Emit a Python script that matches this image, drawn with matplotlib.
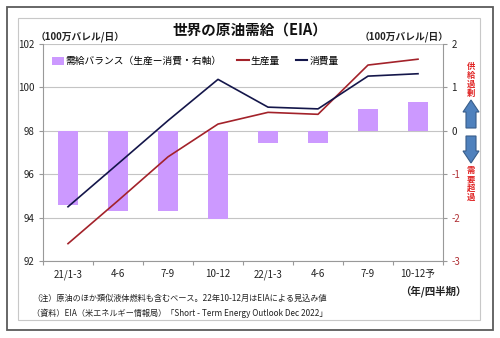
import matplotlib
matplotlib.use("Agg")
import matplotlib.pyplot as plt
from matplotlib.patches import Rectangle, Polygon, Patch
from matplotlib.lines import Line2D

plt.rcParams['font.family'] = ['Noto Sans CJK JP', 'DejaVu Sans']

categories = ["21/1-3", "4-6", "7-9", "10-12", "22/1-3", "4-6", "7-9", "10-12予"]
balance = [-1.72, -1.85, -1.85, -2.03, -0.27, -0.27, 0.50, 0.67]
production = [92.8, 94.78, 96.8, 98.31, 98.85, 98.76, 101.03, 101.3]
consumption = [94.5, 96.48, 98.47, 100.37, 99.09, 99.01, 100.52, 100.63]
left_ticks = [92, 94, 96, 98, 100, 102]
right_ticks = [-3, -2, -1, 0, 1, 2]

W, H = 500, 338
fig = plt.figure(figsize=(W / 100, H / 100), dpi=100)
fig.patch.set_facecolor('white')

def fx(x):
    return x / W

def fy(y):
    return 1 - y / H

# frames
fig.patches.append(Rectangle((fx(7), fy(330)), fx(486), (323) / H, transform=fig.transFigure,
                             fill=False, edgecolor='#5a5a5a', lw=1.3))
fig.patches.append(Rectangle((fx(18), fy(320)), fx(462), (302) / H, transform=fig.transFigure,
                             fill=False, edgecolor='#c8c8c8', lw=0.8))

ax = fig.add_axes([fx(43), fy(261), fx(400), 217 / H])
ax2 = ax.twinx()
ax.set_zorder(ax2.get_zorder() + 1)
ax.patch.set_visible(False)

x = list(range(len(categories)))
bar_color = '#CC99FF'
red = '#A3222A'
navy = '#14164A'

ax2.bar(x, balance, width=0.4, color=bar_color, zorder=2)
ax2.set_ylim(-3, 2)
ax2.set_yticks(right_ticks)
ax2.set_axisbelow(True)
ax2.grid(axis='y', color='#c4c4c4', lw=0.8, zorder=0)

ax.plot(x, production, color=red, lw=1.2)
ax.plot(x, consumption, color=navy, lw=1.2)
ax.set_ylim(92, 102)
ax.set_yticks(left_ticks)
ax.set_xlim(-0.5, len(categories) - 0.5)
ax.set_xticks(x)
ax.set_xticklabels(categories)
ax.set_xticks([i - 0.5 for i in range(len(categories) + 1)], minor=True)
ax.tick_params(axis='x', which='major', length=0, pad=6, labelsize=7, labelcolor='#222222')
ax.tick_params(axis='x', which='minor', length=3, color='#999999', width=0.8)
ax.tick_params(axis='y', length=3, color='#999999', width=0.8, labelsize=7, labelcolor='#222222', pad=3)
ax2.tick_params(axis='y', length=3, color='#999999', width=0.8, labelsize=7, pad=3)

ax2.set_yticklabels([str(v) for v in right_ticks])
for lab, v in zip(ax2.get_yticklabels(), right_ticks):
    lab.set_color('#B03035' if v < 0 else '#222222')

for a in (ax, ax2):
    a.spines['top'].set_visible(False)
ax.spines['right'].set_visible(False)
ax2.spines['left'].set_visible(False)
ax2.spines['bottom'].set_visible(False)
for s in ('left', 'bottom'):
    ax.spines[s].set_color('#999999')
    ax.spines[s].set_linewidth(0.8)
ax2.spines['right'].set_color('#999999')
ax2.spines['right'].set_linewidth(0.8)

# legend
handles = [Patch(facecolor=bar_color, edgecolor='none'),
           Line2D([], [], color=red, lw=1.5),
           Line2D([], [], color=navy, lw=1.5)]
labels = ["需給バランス（生産ー消費・右軸）", "生産量", "消費量"]
fig.legend(handles, labels, loc='center left', bbox_to_anchor=(fx(52), fy(61)), ncol=3,
           frameon=False, fontsize=7, handlelength=1.2, handleheight=0.9, handletextpad=0.2,
           columnspacing=1.6, borderaxespad=0, borderpad=0)

# title and units
fig.text(fx(250), fy(30), "世界の原油需給（EIA）", ha='center', va='center', fontsize=10.5,
         fontweight='bold', color='#111111')
fig.text(fx(36), fy(37), "（100万バレル/日）", ha='left', va='center', fontsize=7,
         fontweight='bold', color='#222222')
fig.text(fx(449), fy(37), "（100万バレル/日）", ha='right', va='center', fontsize=7,
         fontweight='bold', color='#222222')
fig.text(fx(466), fy(291), "（年/四半期）", ha='right', va='center', fontsize=7.5,
         fontweight='bold', color='#222222')

# notes
fig.text(fx(32), fy(298), "（注）原油のほか類似液体燃料も含むベース。22年10-12月はEIAによる見込み値",
         ha='left', va='center', fontsize=5.9, color='#222222')
fig.text(fx(32), fy(313), "（資料）EIA（米エネルギー情報局）「Short - Term Energy Outlook Dec 2022」",
         ha='left', va='center', fontsize=5.9, color='#222222')

# arrows and side notes
def poly(pts, **kw):
    fig.patches.append(Polygon([(fx(a), fy(b)) for a, b in pts], closed=True,
                               transform=fig.transFigure, **kw))

acol = '#4F81BD'
aedge = '#385D8A'
poly([(471, 100), (479, 112), (476, 112), (476, 128), (466, 128), (466, 112), (463, 112)],
     facecolor=acol, edgecolor=aedge, lw=0.8)
poly([(471, 163), (479, 151), (476, 151), (476, 136), (466, 136), (466, 151), (463, 151)],
     facecolor=acol, edgecolor=aedge, lw=0.8)
fig.text(fx(471), fy(80), "\n".join("供給過剰"), ha='center', va='center', fontsize=6,
         fontweight='bold', color='#E02424', linespacing=1.0)
fig.text(fx(471), fy(184), "\n".join("需要超過"), ha='center', va='center', fontsize=6,
         fontweight='bold', color='#E02424', linespacing=1.0)

fig.savefig("out.png", dpi=100)
